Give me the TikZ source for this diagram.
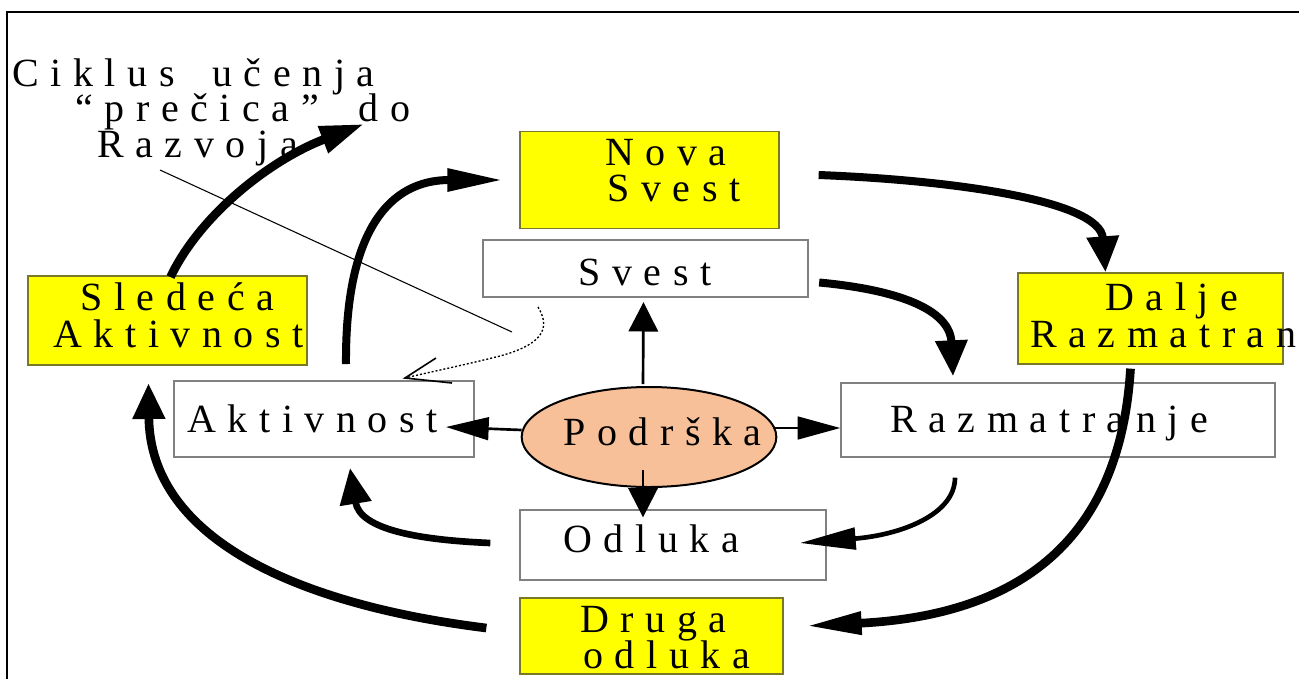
\documentclass[tikz,border=0pt]{standalone}
\usepackage{fontspec}
\setmainfont{Liberation Serif}
\usetikzlibrary{arrows.meta,shapes.geometric,calc}
\definecolor{ybox}{RGB}{255,255,0}
\definecolor{yedge}{RGB}{120,120,40}
\definecolor{gedge}{RGB}{128,128,128}
\definecolor{peach}{RGB}{248,192,152}
\begin{document}
\begin{tikzpicture}[x=0.75pt,y=-0.75pt,
  ybx/.style={draw=yedge,line width=1.2pt,fill=ybox,inner sep=0pt},
  wbx/.style={draw=gedge,line width=1.5pt,fill=white,inner sep=0pt},
  lbl/.style={inner sep=0pt,anchor=base west,font=\fontsize{30}{40}\selectfont\addfontfeature{LetterSpace=29}},
  hbig/.style={line width=6pt,-{Triangle[length=42pt,width=16pt]}},
  vbig/.style={line width=6pt,-{Triangle[length=27pt,width=23pt]}},
  dbig/.style={line width=6.5pt,-{Triangle[length=33pt,width=20pt]}},
  hmed/.style={line width=2pt,-{Triangle[length=32pt,width=17pt]}},
  vmed/.style={line width=2pt,-{Triangle[length=22pt,width=22pt]}}]
\useasboundingbox (0,0) rectangle (1299,679);
\fill[white] (0,0) rectangle (1299,679);
% frame
\draw[line width=2.2pt] (7,679) -- (7,12) -- (1299,12);
% boxes
\node[ybx,minimum width=194pt,minimum height=73pt] (nova) at (649.5,180) {};
\node[wbx,minimum width=244pt,minimum height=43pt] (svest) at (645.5,268.5) {};
\node[ybx,minimum width=209pt,minimum height=67pt] (sled) at (167.5,320.5) {};
\node[ybx,minimum width=199pt,minimum height=68pt] (dalje) at (1150.5,318.5) {};
\node[wbx,minimum width=225pt,minimum height=57pt] (akt) at (324,419) {};
\node[wbx,minimum width=325pt,minimum height=55pt] (razm) at (1058,420) {};
\node[wbx,minimum width=229pt,minimum height=52pt] (odl) at (673,545) {};
\node[ybx,minimum width=197pt,minimum height=57pt] (druga) at (651.5,636) {};
\node[ellipse,draw=black,line width=1.5pt,fill=peach,minimum width=191pt,minimum height=75pt,inner sep=0pt] (pod) at (649,437) {};
% texts
\node[lbl] (tnova) at (605,165) {Nova};
\node[lbl] (tsvest2) at (607,201) {Svest};
\node[lbl] (tsvest) at (578,285) {Svest};
\node[lbl] (tsled) at (80,310) {Sledeća};
\node[lbl] (tsled2) at (53,347) {Aktivnost};
\node[lbl] (tdal) at (1105,310) {Dalje};
\node[lbl] (tdal2) at (1030,347) {Razmatran};
\node[lbl] (takt) at (187,432) {Aktivnost};
\node[lbl] (tpod) at (563,445) {Podrška};
\node[lbl] (trazm) at (890,432) {Razmatranje};
\node[lbl] (todl) at (563,552) {Odluka};
\node[lbl] (tdru) at (580,632) {Druga};
\node[lbl] (tdru2) at (583,668) {odluka};
\node[lbl] (tc1) at (12,86) {Ciklus\ \kern0.4em učenja};
\node[lbl] (tc2) at (75,121) {“prečica”\ \kern0.45em do};
\node[lbl] (tc3) at (97,157) {Razvoja};
% thin line and dotted arrow
\coordinate (l1) at (160,170);
\coordinate (l2) at (512,332);
\draw[line width=0.8pt] (l1) -- (l2);
\coordinate (d1) at (538,307);
\coordinate (d2) at (405,378);
\draw[line width=1pt,dash pattern=on 1.5pt off 1.5pt] (d1) .. controls (552,330) and (540,345) .. (500,356) .. controls (460,366) and (430,372) .. (d2);
\draw[line width=1.2pt] (436,358) -- (d2) -- (452,383);
% big arrows
\coordinate (shortcut) at (364,124);
\draw[dbig] ($(sled.north)+(3,2)$) .. controls (200,215) and (270,160) .. (shortcut);
\draw[hbig] ($(akt.north)+(22,-16)$) .. controls (345,230) and (390,180) .. ($(nova.west)+(-16,0)$);
\draw[vbig] ($(nova.east)+(39,-5)$) .. controls (950,180) and (1100,200) .. ($(dalje.north)+(-45,0)$);
\draw[vbig] ($(svest.east)+(10,14)$) .. controls (900,290) and (950,310) .. ($(razm.north)+(-105,-6)$);
\draw[hbig,line width=6.5pt] ($(dalje.south)+(-20,4)$) .. controls (1120,540) and (1020,615) .. ($(druga.east)+(22,-10)$);
\draw[hbig,line width=3.5pt] ($(razm.north |- razm.south)+(-103,20)$) .. controls (955,515) and (900,535) .. ($(odl.east)+(-27,-2)$);
\draw[vbig,line width=5pt] ($(odl.west)+(-29,-2)$) .. controls (420,540) and (360,530) .. ($(akt.south)+(26,10)$);
\draw[vbig,line width=6.5pt] ($(druga.west)+(-33,-8)$) .. controls (300,605) and (150,540) .. ($(sled.south)+(-19,17)$);
% Podrska arrows
\draw[vmed] ($(pod.north)+(-6,-2)$) -- ($(svest.south)+(-2,4)$);
\draw[hmed] ($(pod.west)+(1,-7)$) -- ($(akt.east)+(-29,8)$);
\draw[hmed] ($(pod.east)+(-2,-9)$) -- ($(razm.west)+(0,8)$);
\draw[vmed] ($(pod.south)+(-6,-18)$) -- ($(odl.north)+(-30,8)$);
\end{tikzpicture}
\end{document}
